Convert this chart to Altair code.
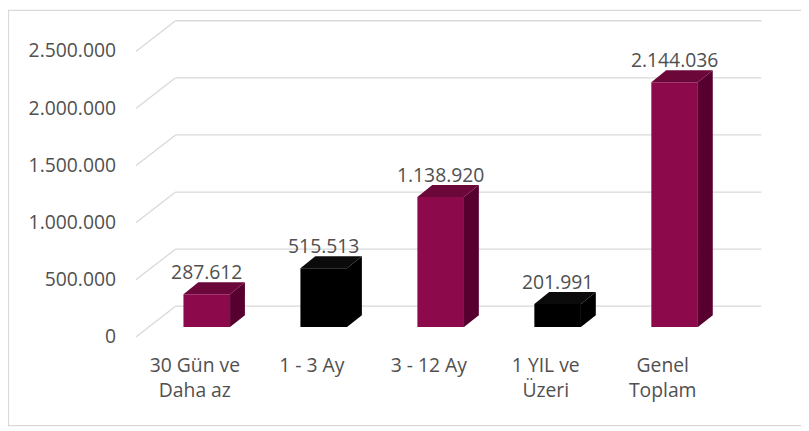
import altair as alt
import pandas as pd

# ---------------- data ----------------
categories = ["30 Gün ve\nDaha az", "1 - 3 Ay", "3 - 12 Ay", "1 YIL ve\nÜzeri", "Genel\nToplam"]
values = [287612, 515513, 1138920, 201991, 2144036]
bar_kind = ["maroon", "black", "maroon", "black", "maroon"]
tick_values = [0, 500000, 1000000, 1500000, 2000000, 2500000]
tick_labels = ["0", "500.000", "1.000.000", "1.500.000", "2.000.000", "2.500.000"]

# ---------------- layout (pixels) ----------------
W, H = 800, 420
PX_PER_UNIT = 118.0          # px between category centres
X0_PX = 200.5                # view x of first bar centre
PX_PER_VAL = 57.6 / 500000   # px per value unit
Y0_PX = 320.0                # view y of value 0 on the bar plane


def ux(px):
    return px / PX_PER_UNIT


def uv(px):
    return px / PX_PER_VAL


x_dom = [-X0_PX / PX_PER_UNIT, (W - X0_PX) / PX_PER_UNIT]
y_dom = [-(H - Y0_PX) / PX_PER_VAL, Y0_PX / PX_PER_VAL]

half_w = ux(23.5)
ddx, ddv = ux(15), uv(12)          # bar depth
wall_l, wall_r = ux(169 - X0_PX), ux(760 - X0_PX)
back_dv = uv(21)                   # back wall above bar plane
front_x = wall_l - ux(40)
front_dv = uv(-10)                 # front plane below bar plane

palette = {
    "maroon": {"front": "#8C0A4C", "top": "#6C0739", "side": "#570030"},
    "black": {"front": "#000000", "top": "#0b0b0b", "side": "#000000"},
}

TEXT = "#505050"
FONT = "Open Sans"
FS = 19.5

xs = alt.Scale(domain=x_dom, range=[0, W], zero=False, nice=False)
ys = alt.Scale(domain=y_dom, range=[H, 0], zero=False, nice=False)


def X(f):
    return alt.X(f, type="quantitative", scale=xs, axis=None)


def Y(f):
    return alt.Y(f, type="quantitative", scale=ys, axis=None)


# bars
bars = pd.DataFrame({
    "idx": list(range(len(values))),
    "cat": categories,
    "value": values,
    "label": [f"{v:,}".replace(",", ".") for v in values],
    "front": [palette[k]["front"] for k in bar_kind],
})
bars["l"] = bars["idx"] - half_w
bars["r"] = bars["idx"] + half_w
bars["zero"] = 0.0
bars["catx"] = bars["idx"] - ux(12)

side_rows, top_rows = [], []
for i, (v, k) in enumerate(zip(values, bar_kind)):
    l, r = i - half_w, i + half_w
    side_rows += [
        {"bar": i, "x": r, "lo": 0.0, "hi": v, "col": palette[k]["side"]},
        {"bar": i, "x": r + ddx, "lo": ddv, "hi": v + ddv, "col": palette[k]["side"]},
    ]
    top_rows += [
        {"bar": i, "x": l, "lo": v, "hi": v, "col": palette[k]["top"]},
        {"bar": i, "x": l + ddx, "lo": v, "hi": v + ddv, "col": palette[k]["top"]},
        {"bar": i, "x": r, "lo": v, "hi": v + ddv, "col": palette[k]["top"]},
        {"bar": i, "x": r + ddx, "lo": v + ddv, "hi": v + ddv, "col": palette[k]["top"]},
    ]
side_df = pd.DataFrame(side_rows)
top_df = pd.DataFrame(top_rows)

ticks = pd.DataFrame({"v": tick_values, "lab": tick_labels})
ticks["yb"] = ticks["v"] + back_dv
ticks["yf"] = ticks["v"] + front_dv
ticks["xb0"] = wall_l
ticks["xb1"] = wall_r
ticks["xf"] = front_x

GRID = "#d9d9d9"

one = pd.DataFrame({"a": [0]})
border_left = alt.Chart(one).mark_rule(color=GRID, strokeWidth=1.2).encode(
    x=alt.value(0.5), y=alt.value(0), y2=alt.value(H))
border_top = alt.Chart(one).mark_rule(color=GRID, strokeWidth=1.2).encode(
    x=alt.value(0), x2=alt.value(W), y=alt.value(0.5))
border_bottom = alt.Chart(one).mark_rule(color=GRID, strokeWidth=1.2).encode(
    x=alt.value(0), x2=alt.value(W), y=alt.value(H - 0.5))

grid_back = alt.Chart(ticks).mark_rule(color=GRID, strokeWidth=1.3).encode(
    x=X("xb0"), x2="xb1", y=Y("yb"))
grid_diag = alt.Chart(ticks).mark_rule(color=GRID, strokeWidth=1.3).encode(
    x=X("xf"), y=Y("yf"), x2="xb0", y2="yb")

axis_labels = alt.Chart(ticks).mark_text(
    font=FONT, fontSize=FS, color=TEXT, align="right", baseline="middle", dx=-20
).encode(x=X("xf"), y=Y("yf"), text="lab:N")

front = alt.Chart(bars).mark_rect().encode(
    x=X("l"), x2="r", y=Y("zero"), y2="value",
    color=alt.Color("front:N", scale=None),
)
side = alt.Chart(side_df).mark_area(interpolate="linear").encode(
    x=X("x"), y=Y("lo"), y2="hi", detail="bar:N",
    color=alt.Color("col:N", scale=None),
)
top = alt.Chart(top_df).mark_area(interpolate="linear").encode(
    x=X("x"), y=Y("lo"), y2="hi", detail="bar:N",
    color=alt.Color("col:N", scale=None),
)

value_labels = alt.Chart(bars).mark_text(
    font=FONT, fontSize=FS, color=TEXT, align="center", baseline="middle", dy=-21
).encode(x=X("idx"), y=Y("value"), text="label:N")

cat_labels = alt.Chart(bars).mark_text(
    font=FONT, fontSize=FS, color=TEXT, align="center", baseline="alphabetic",
    dy=45, lineBreak="\n", lineHeight=26,
).encode(x=X("catx"), y=Y("zero"), text="cat:N")

chart = alt.layer(
    border_left, border_top, border_bottom,
    grid_back, grid_diag, axis_labels,
    side, top, front,
    value_labels, cat_labels,
).properties(
    width=W, height=H, padding=0,
    autosize=alt.AutoSizeParams(type="none"),
).configure_view(strokeWidth=0)

chart.save("out.html", embed_options={"renderer": "svg", "actions": False})
